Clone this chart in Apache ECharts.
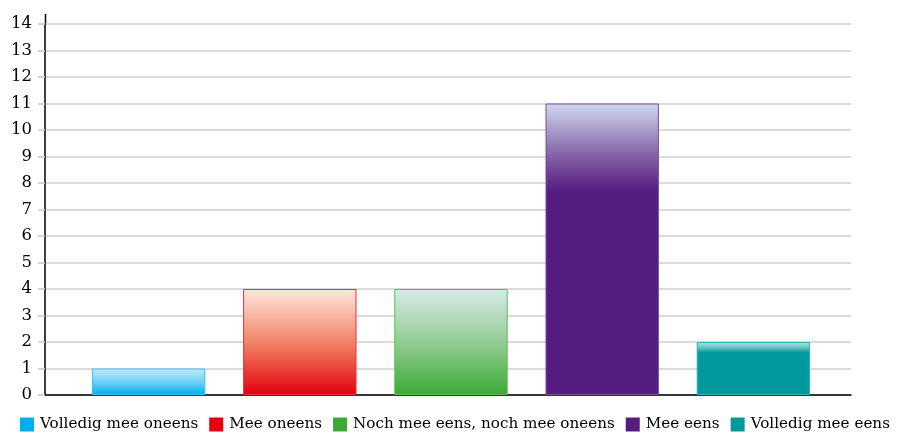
<!DOCTYPE html>
<html>
<head>
<meta charset="utf-8">
<script src="https://cdn.jsdelivr.net/npm/echarts@6/dist/echarts.min.js"></script>
<style>html,body{margin:0;padding:0;background:#fff}#c{width:899px;height:435px}</style>
</head>
<body>
<div id="c"></div>
<script>
const categories = ["Volledig mee oneens", "Mee oneens", "Noch mee eens, noch mee oneens", "Mee eens", "Volledig mee eens"];
const values = [1, 4, 4, 11, 2];
const yTicks = [0,1,2,3,4,5,6,7,8,9,10,11,12,13,14];
const baseColors = ["#00aeef", "#e3000f", "#3aaa35", "#561d80", "#009a9d"];
const midColors = ["#66cdf4", "#f0795c", "#8cc98a", "#8a6aaa", "#66c2c4"];
const topColors = ["#c9e9f8", "#fde8de", "#d6ebe8", "#cfd9ef", "#b5e0e1"];
const borderColors = ["#33c0f2", "#e8323c", "#5cbb55", "#7a4a9c", "#33afb2"];
const solidFrom = [1.0, 1.0, 1.0, 0.3, 0.2];

const FONT = "DejaVu Serif";
const chart = echarts.init(document.getElementById('c'), null, {renderer: 'canvas'});

const series = categories.map((name, i) => ({
  name: name,
  type: 'bar',
  xAxisIndex: 1,
  yAxisIndex: 1,
  barWidth: '75%',
  barGap: '-100%',
  data: values.map((v, j) => j === i ? v : '-'),
  itemStyle: {
    color: new echarts.graphic.LinearGradient(0, 0, 0, 1, [
      {offset: 0, color: topColors[i]},
      {offset: solidFrom[i] * 0.55, color: midColors[i]},
      {offset: solidFrom[i], color: baseColors[i]},
      {offset: 1, color: baseColors[i]}
    ]),
    borderColor: borderColors[i],
    borderWidth: 1
  }
}));

chart.setOption({
  animation: false,
  legend: {
    top: 415,
    left: 15,
    padding: [2, 0, 2, 5],
    itemWidth: 14,
    itemHeight: 14,
    itemGap: 11,
    icon: 'rect',
    textStyle: {fontFamily: FONT, fontSize: 15.2, color: '#000', padding: [0,0,0,1]},
    data: categories.map((n, i) => ({name: n, itemStyle: {color: baseColors[i], borderWidth: 0}}))
  },
  grid: [
    {left: 45, right: 48, top: 24, bottom: 40},
    {left: 73, right: 70, top: 24, bottom: 40}
  ],
  xAxis: [
    {gridIndex: 0, type: 'category', data: categories, axisLine: {lineStyle: {color: '#000', width: 1.5}},
     axisTick: {show: false}, axisLabel: {show: false}, splitLine: {show: false}},
    {gridIndex: 1, type: 'category', data: categories, show: false}
  ],
  yAxis: [
    {gridIndex: 0, type: 'value', min: yTicks[0], max: yTicks[yTicks.length-1], interval: 1,
     axisLine: {show: true, lineStyle: {color: '#000', width: 1.5}},
     axisTick: {show: true, length: 7, lineStyle: {color: '#c8c8c8', width: 1.5}},
     axisLabel: {fontFamily: FONT, fontSize: 16.5, color: '#000', margin: 13},
     splitLine: {show: true, lineStyle: {color: '#cfcfcf', width: 1.5}}},
    {gridIndex: 1, type: 'value', min: yTicks[0], max: yTicks[yTicks.length-1], interval: 1, show: false, splitLine: {show: false}}
  ],
  graphic: [
    {type: 'line', shape: {x1: 45.5, y1: 14, x2: 45.5, y2: 25}, style: {stroke: '#000', lineWidth: 1.5}}
  ],
  series: series
});
</script>
</body>
</html>
